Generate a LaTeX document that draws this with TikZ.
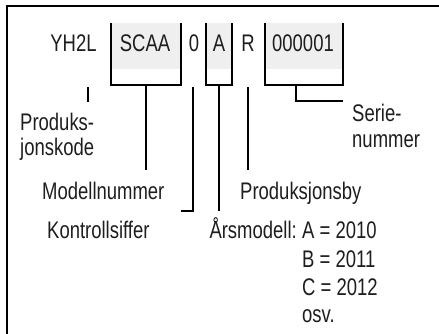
\documentclass[tikz,border=0pt]{standalone}
\usepackage{fontspec}
\setmainfont{Liberation Sans}[FakeStretch=0.77]
\definecolor{boxgray}{HTML}{EFEFEF}
\definecolor{ink}{HTML}{1E1E1E}
\begin{document}
\begin{tikzpicture}[x=1pt,y=-1pt,
  txt/.style={inner sep=0pt, anchor=base west, font=\fontsize{24}{28}\selectfont, text=ink},
  code/.style={inner sep=0pt, anchor=base, font=\fontsize{24}{28}\selectfont, text=ink},
  ln/.style={line width=2.4pt, draw=black}]
\useasboundingbox (0,0) rectangle (439,334);
% frame
\draw[ln] (7,334) -- (7,6) -- (439,6);
% bracket boxes
\fill[boxgray] (111,23) rectangle (181,69);
\fill[boxgray] (206,23) rectangle (232,69);
\fill[boxgray] (265,23) rectangle (343,69);
\draw[ln] (111,23) -- (111,85) -- (181,85) -- (181,23);
\draw[ln] (206,23) -- (206,85) -- (232,85) -- (232,23);
\draw[ln] (265,23) -- (265,85) -- (343,85) -- (343,23);
% code characters
\node[code] (yh2l) at (73.5,52) {YH2L};
\node[code] (scaa) at (145,52) {SCAA};
\node[code] (zero) at (194,52) {0};
\node[code] (aa) at (219,52) {A};
\node[code] (rr) at (248,52) {R};
\node[code] (ser) at (303,52) {000001};
% labels
\node[txt] (prod1) at (20,131) {Produks-};
\node[txt] (prod2) at (20,155) {jonskode};
\node[txt] (modell) at (42,199) {Modellnummer};
\node[txt] (kontroll) at (47,238) {Kontrollsiffer};
\node[txt] (pby) at (240,199) {Produksjonsby};
\node[txt] (serie1) at (352,122) {Serie-};
\node[txt] (serie2) at (352,147) {nummer};
\node[txt, anchor=base east] (ars) at (297,238) {Årsmodell:};
\node[txt] (y1) at (302,238) {A = 2010};
\node[txt] (y2) at (302,267) {B = 2011};
\node[txt] (y3) at (302,295) {C = 2012};
\node[txt] (y4) at (302,322) {osv.};
% connector end points
\coordinate (c1a) at (88,87);   \coordinate (c1b) at (88,102);
\coordinate (c2a) at (146,85);  \coordinate (c2b) at (146,170);
\coordinate (c3a) at (193,87);  \coordinate (c3b) at (193,211); \coordinate (c3c) at (181,211);
\coordinate (c4a) at (219,85);  \coordinate (c4b) at (219,211);
\coordinate (c5a) at (248,87);  \coordinate (c5b) at (248,170);
\coordinate (c6a) at (296,85);  \coordinate (c6b) at (296,101); \coordinate (c6c) at (343,101);
\draw[ln] (c1a) -- (c1b);
\draw[ln] (c2a) -- (c2b);
\draw[ln] (c3a) -- (c3b) -- (c3c);
\draw[ln] (c4a) -- (c4b);
\draw[ln] (c5a) -- (c5b);
\draw[ln] (c6a) -- (c6b) -- (c6c);
\end{tikzpicture}
\end{document}
